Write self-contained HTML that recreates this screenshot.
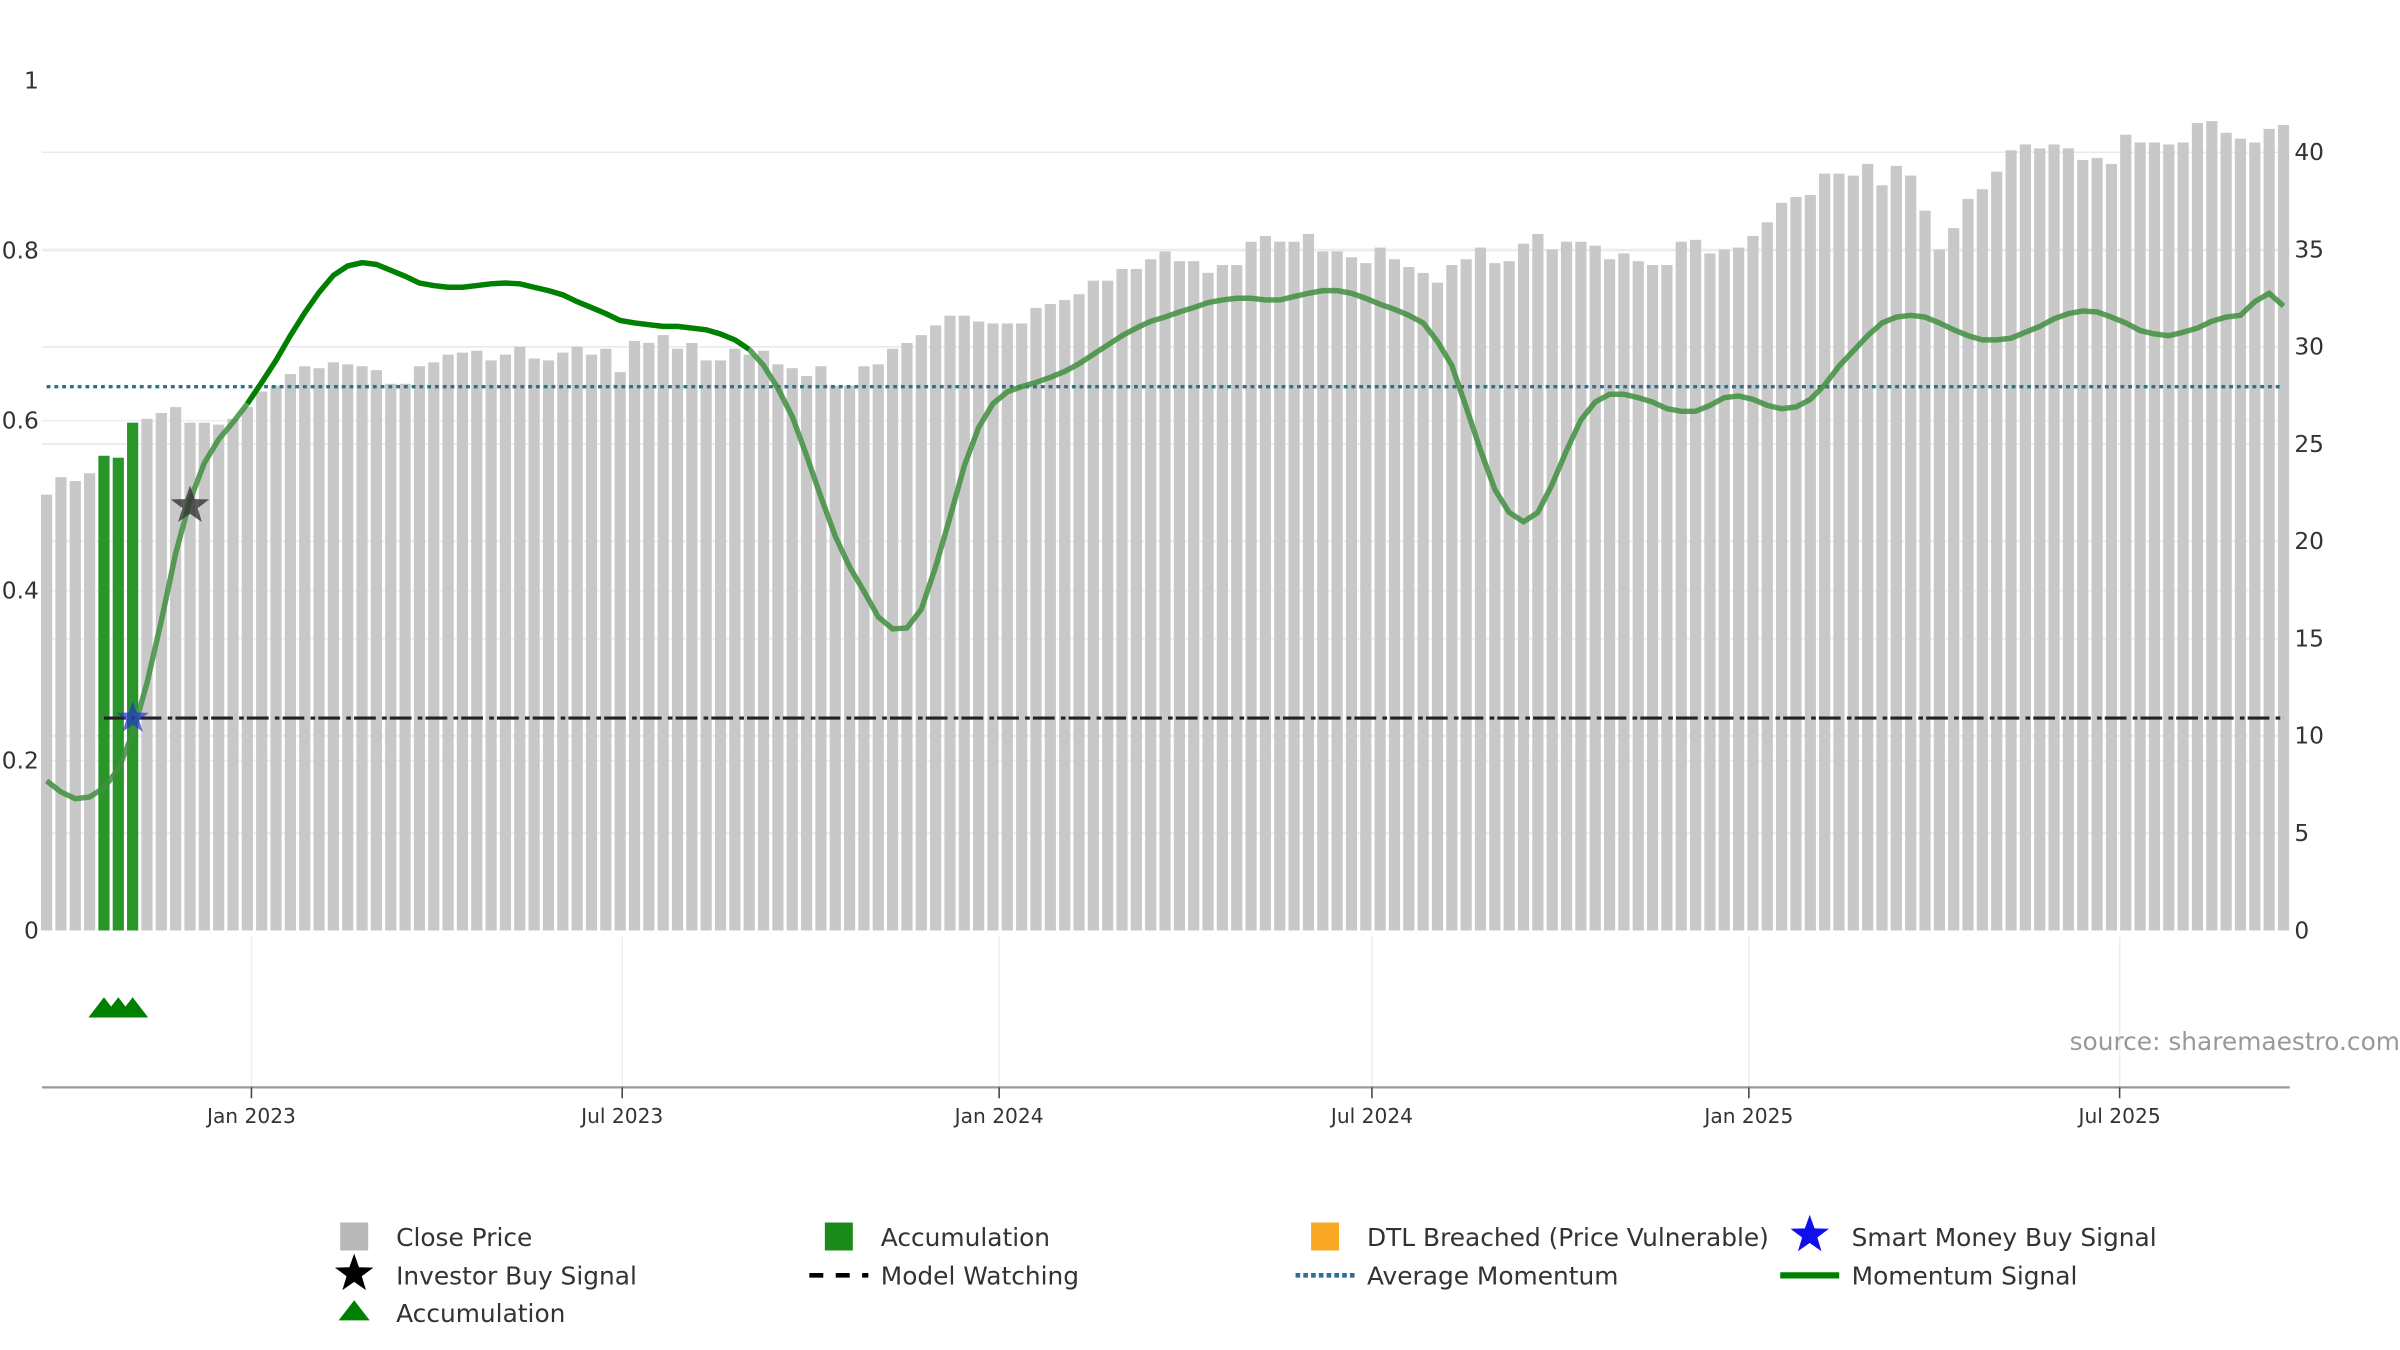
<!DOCTYPE html>
<html><head><meta charset="utf-8"><style>
html,body{margin:0;padding:0;background:#fff;width:2400px;height:1350px;overflow:hidden}
svg{display:block}
text{font-family:"DejaVu Sans","Liberation Sans",sans-serif}
</style></head><body>
<svg id="chart" width="2400" height="1350" viewBox="0 0 1545 869.06" xmlns="http://www.w3.org/2000/svg">
<g id="grid"></g>
<g id="bars"></g>
<g id="lines"></g>
<g id="axes"></g>
<g id="legend"></g>
<text x="1545" y="676" text-anchor="end" font-size="16" fill="#999">source: sharemaestro.com</text>
</svg>
<script>
const closePrice=[22.4,23.3,23.1,23.5,24.4,24.3,26.1,26.3,26.6,26.9,26.1,26.1,26.0,26.3,26.9,27.7,28.0,28.6,29.0,28.9,29.2,29.1,29.0,28.8,28.1,28.1,29.0,29.2,29.6,29.7,29.8,29.3,29.6,30.0,29.4,29.3,29.7,30.0,29.6,29.9,28.7,30.3,30.2,30.6,29.9,30.2,29.3,29.3,29.9,29.6,29.8,29.1,28.9,28.5,29.0,28.0,28.0,29.0,29.1,29.9,30.2,30.6,31.1,31.6,31.6,31.3,31.2,31.2,31.2,32.0,32.2,32.4,32.7,33.4,33.4,34.0,34.0,34.5,34.9,34.4,34.4,33.8,34.2,34.2,35.4,35.7,35.4,35.4,35.8,34.9,34.9,34.6,34.3,35.1,34.5,34.1,33.8,33.3,34.2,34.5,35.1,34.3,34.4,35.3,35.8,35.0,35.4,35.4,35.2,34.5,34.8,34.4,34.2,34.2,35.4,35.5,34.8,35.0,35.1,35.7,36.4,37.4,37.7,37.8,38.9,38.9,38.8,39.4,38.3,39.3,38.8,37.0,35.0,36.1,37.6,38.1,39.0,40.1,40.4,40.2,40.4,40.2,39.6,39.7,39.4,40.9,40.5,40.5,40.4,40.5,41.5,41.6,41.0,40.7,40.5,41.2,41.4];
const momentum=[.176,.163,.155,.157,.168,.190,.232,.291,.364,.444,.506,.550,.578,.598,.620,.645,.671,.700,.727,.751,.771,.782,.786,.784,.777,.770,.762,.759,.757,.757,.759,.761,.762,.761,.757,.753,.748,.740,.733,.726,.718,.715,.713,.711,.711,.709,.707,.702,.695,.684,.665,.638,.605,.559,.510,.464,.428,.399,.369,.355,.356,.378,.428,.486,.547,.592,.620,.634,.640,.645,.651,.658,.667,.678,.689,.700,.709,.717,.722,.728,.733,.739,.742,.744,.744,.742,.742,.746,.750,.753,.753,.750,.744,.737,.731,.724,.715,.693,.665,.616,.565,.519,.492,.481,.492,.525,.565,.601,.622,.631,.631,.627,.622,.614,.611,.611,.618,.627,.629,.625,.618,.614,.616,.625,.642,.664,.682,.700,.715,.722,.724,.722,.715,.707,.700,.695,.695,.697,.704,.711,.720,.726,.729,.728,.722,.715,.706,.702,.700,.704,.709,.717,.722,.724,.740,.750,.735];
const accumulationIdx=[4,5,6];
const smartMoneyIdx=[6];
const smartMoneyVal=[0.25];
const investorIdx=[10];
const investorVal=[0.5];
const avgMomentum=0.64;
const modelWatching=0.25;
const modelStart=4;
const dateTicks=["2023-01-01","2023-07-01","2024-01-01","2024-07-01","2025-01-01","2025-07-01"];
const dateTickLabels=["Jan 2023","Jul 2023","Jan 2024","Jul 2024","Jan 2025","Jul 2025"];
const leftTicks=[0,0.2,0.4,0.6,0.8,1];
const leftTickLabels=["0","0.2","0.4","0.6","0.8","1"];
const rightTicks=[0,5,10,15,20,25,30,35,40];
const startDate="2022-09-23";

const NS="http://www.w3.org/2000/svg";
const X0=30,STEP=(1470-30)/156,Y0=599,YL=547,YR=(599-98)/40;
const xi=i=>X0+i*STEP;
const xd=d=>X0+((new Date(d)-new Date(startDate))/864e5/7)*STEP;
const yl=v=>Y0-v*YL, yr=v=>Y0-v*YR;
function mk(tag,attrs,parent){const e=document.createElementNS(NS,tag);for(const k in attrs)e.setAttribute(k,attrs[k]);parent.appendChild(e);return e;}
const G=id=>document.getElementById(id);

// grid
rightTicks.forEach(t=>{if(t>0){const l=mk('line',{x1:27,x2:1474,y1:yr(t),y2:yr(t),stroke:'#e8eaee','stroke-width':1},G('grid'));}});
leftTicks.forEach(t=>{if(t>0&&t<1){const l=mk('line',{x1:27,x2:1474,y1:yl(t),y2:yl(t),stroke:'#eceef2','stroke-width':1},G('grid'));}});
dateTicks.forEach(d=>{const l=mk('line',{x1:xd(d),x2:xd(d),y1:603,y2:700,stroke:'#eceef2','stroke-width':1},G('grid'));});

// bars
const BW=7.2;
closePrice.forEach((v,i)=>{const acc=accumulationIdx.includes(i);
 const r=mk('rect',{x:xi(i)-BW/2,y:yr(v),width:BW,height:yr(0)-yr(v),fill:acc?'#2a962a':'#c8c8c8'},G('bars'));
 });

// average momentum
let l=mk('line',{x1:xi(0),x2:xi(156),y1:yl(avgMomentum),y2:yl(avgMomentum),stroke:'#2e6f96','stroke-width':2.2,'stroke-dasharray':'2.5 2.5'},G('lines'));

// model watching
l=mk('line',{x1:xi(modelStart),x2:xi(156),y1:yl(modelWatching),y2:yl(modelWatching),stroke:'#222','stroke-width':2,'stroke-dasharray':'14 4 3 2'},G('lines'));


// momentum line segments
function seg(a,b){return momentum.slice(a,b+1).map((v,k)=>(k?'L':'M')+xi(a+k).toFixed(1)+','+yl(v).toFixed(1)).join(' ');}
let p=mk('path',{d:seg(0,14),fill:'none',stroke:'#3f8f3f','stroke-width':3.5,'stroke-opacity':0.85},G('lines'));

p=mk('path',{d:seg(14,49),fill:'none',stroke:'#008000','stroke-width':3.5},G('lines'));

p=mk('path',{d:seg(49,156),fill:'none',stroke:'#3f8f3f','stroke-width':3.5,'stroke-opacity':0.85},G('lines'));


function star(cx,cy,r){let s='';for(let k=0;k<10;k++){const a=-Math.PI/2+k*Math.PI/5,rr=k%2?r*0.4:r;s+=(k?'L':'M')+(cx+rr*Math.cos(a)).toFixed(1)+','+(cy+rr*Math.sin(a)).toFixed(1);}return s+'Z';}
smartMoneyIdx.forEach((i,k)=>{const s=mk('path',{d:star(xi(i),yl(smartMoneyVal[k]),11),fill:'#2233cc','fill-opacity':0.7},G('lines'));});
investorIdx.forEach((i,k)=>{const s=mk('path',{d:star(xi(i),yl(investorVal[k]),13),fill:'#333','fill-opacity':0.8},G('lines'));});
accumulationIdx.forEach(i=>{const x=xi(i);const t=mk('polygon',{points:`${x-10},655 ${x},642 ${x+10},655`,fill:'#008000'},G('lines'));});

// axes
const A=G('axes');
let ax=mk('line',{x1:27,x2:1474,y1:700,y2:700,stroke:'#999','stroke-width':1.5},A);
dateTicks.forEach((d,k)=>{const x=xd(d);const t=mk('line',{x1:x,x2:x,y1:700,y2:707,stroke:'#444','stroke-width':1},A);
 const tx=mk('text',{x:x,y:723,'text-anchor':'middle','font-size':13,fill:'#333'},A);tx.textContent=dateTickLabels[k];});
leftTicks.forEach((t,k)=>{const tx=mk('text',{x:25,y:yl(t)+5,'text-anchor':'end','font-size':15,fill:'#333'},A);tx.textContent=leftTickLabels[k];});
rightTicks.forEach(t=>{const tx=mk('text',{x:1477,y:yr(t)+5,'font-size':15,fill:'#333'},A);tx.textContent=String(t);});

// legend
const L=G('legend');
const items=[
 [228,796,'sq','#b8b8b8','Close Price'],[540,796,'sq','#1a8a1a','Accumulation'],[853,796,'sq','#f9a825','DTL Breached (Price Vulnerable)'],[1165,796,'star','#1010ee','Smart Money Buy Signal'],
 [228,821,'star','#000','Investor Buy Signal'],[540,821,'dash','#000','Model Watching'],[853,821,'dot','#2e6f96','Average Momentum'],[1165,821,'line','#008000','Momentum Signal'],
 [228,845,'tri','#008000','Accumulation']];
items.forEach(it=>{const [x,y,kind,c,label]=it;const g=mk('g',{},L);
 if(kind==='sq')mk('rect',{x:x-9,y:y-9,width:18,height:18,fill:c},g);
 else if(kind==='star')mk('path',{d:star(x,y-1,13),fill:c},g);
 else if(kind==='dash')mk('line',{x1:x-19,x2:x+19,y1:y,y2:y,stroke:c,'stroke-width':3,'stroke-dasharray':'9 8'},g);
 else if(kind==='dot')mk('line',{x1:x-19,x2:x+19,y1:y,y2:y,stroke:c,'stroke-width':3,'stroke-dasharray':'3 2'},g);
 else if(kind==='line')mk('line',{x1:x-19,x2:x+19,y1:y,y2:y,stroke:c,'stroke-width':4},g);
 else mk('polygon',{points:`${x-10},${y+5} ${x},${y-8} ${x+10},${y+5}`,fill:c},g);
 const t=mk('text',{x:x+27,y:y+6,'font-size':16,fill:'#333'},g);t.textContent=label;});
</script>
</body></html>
